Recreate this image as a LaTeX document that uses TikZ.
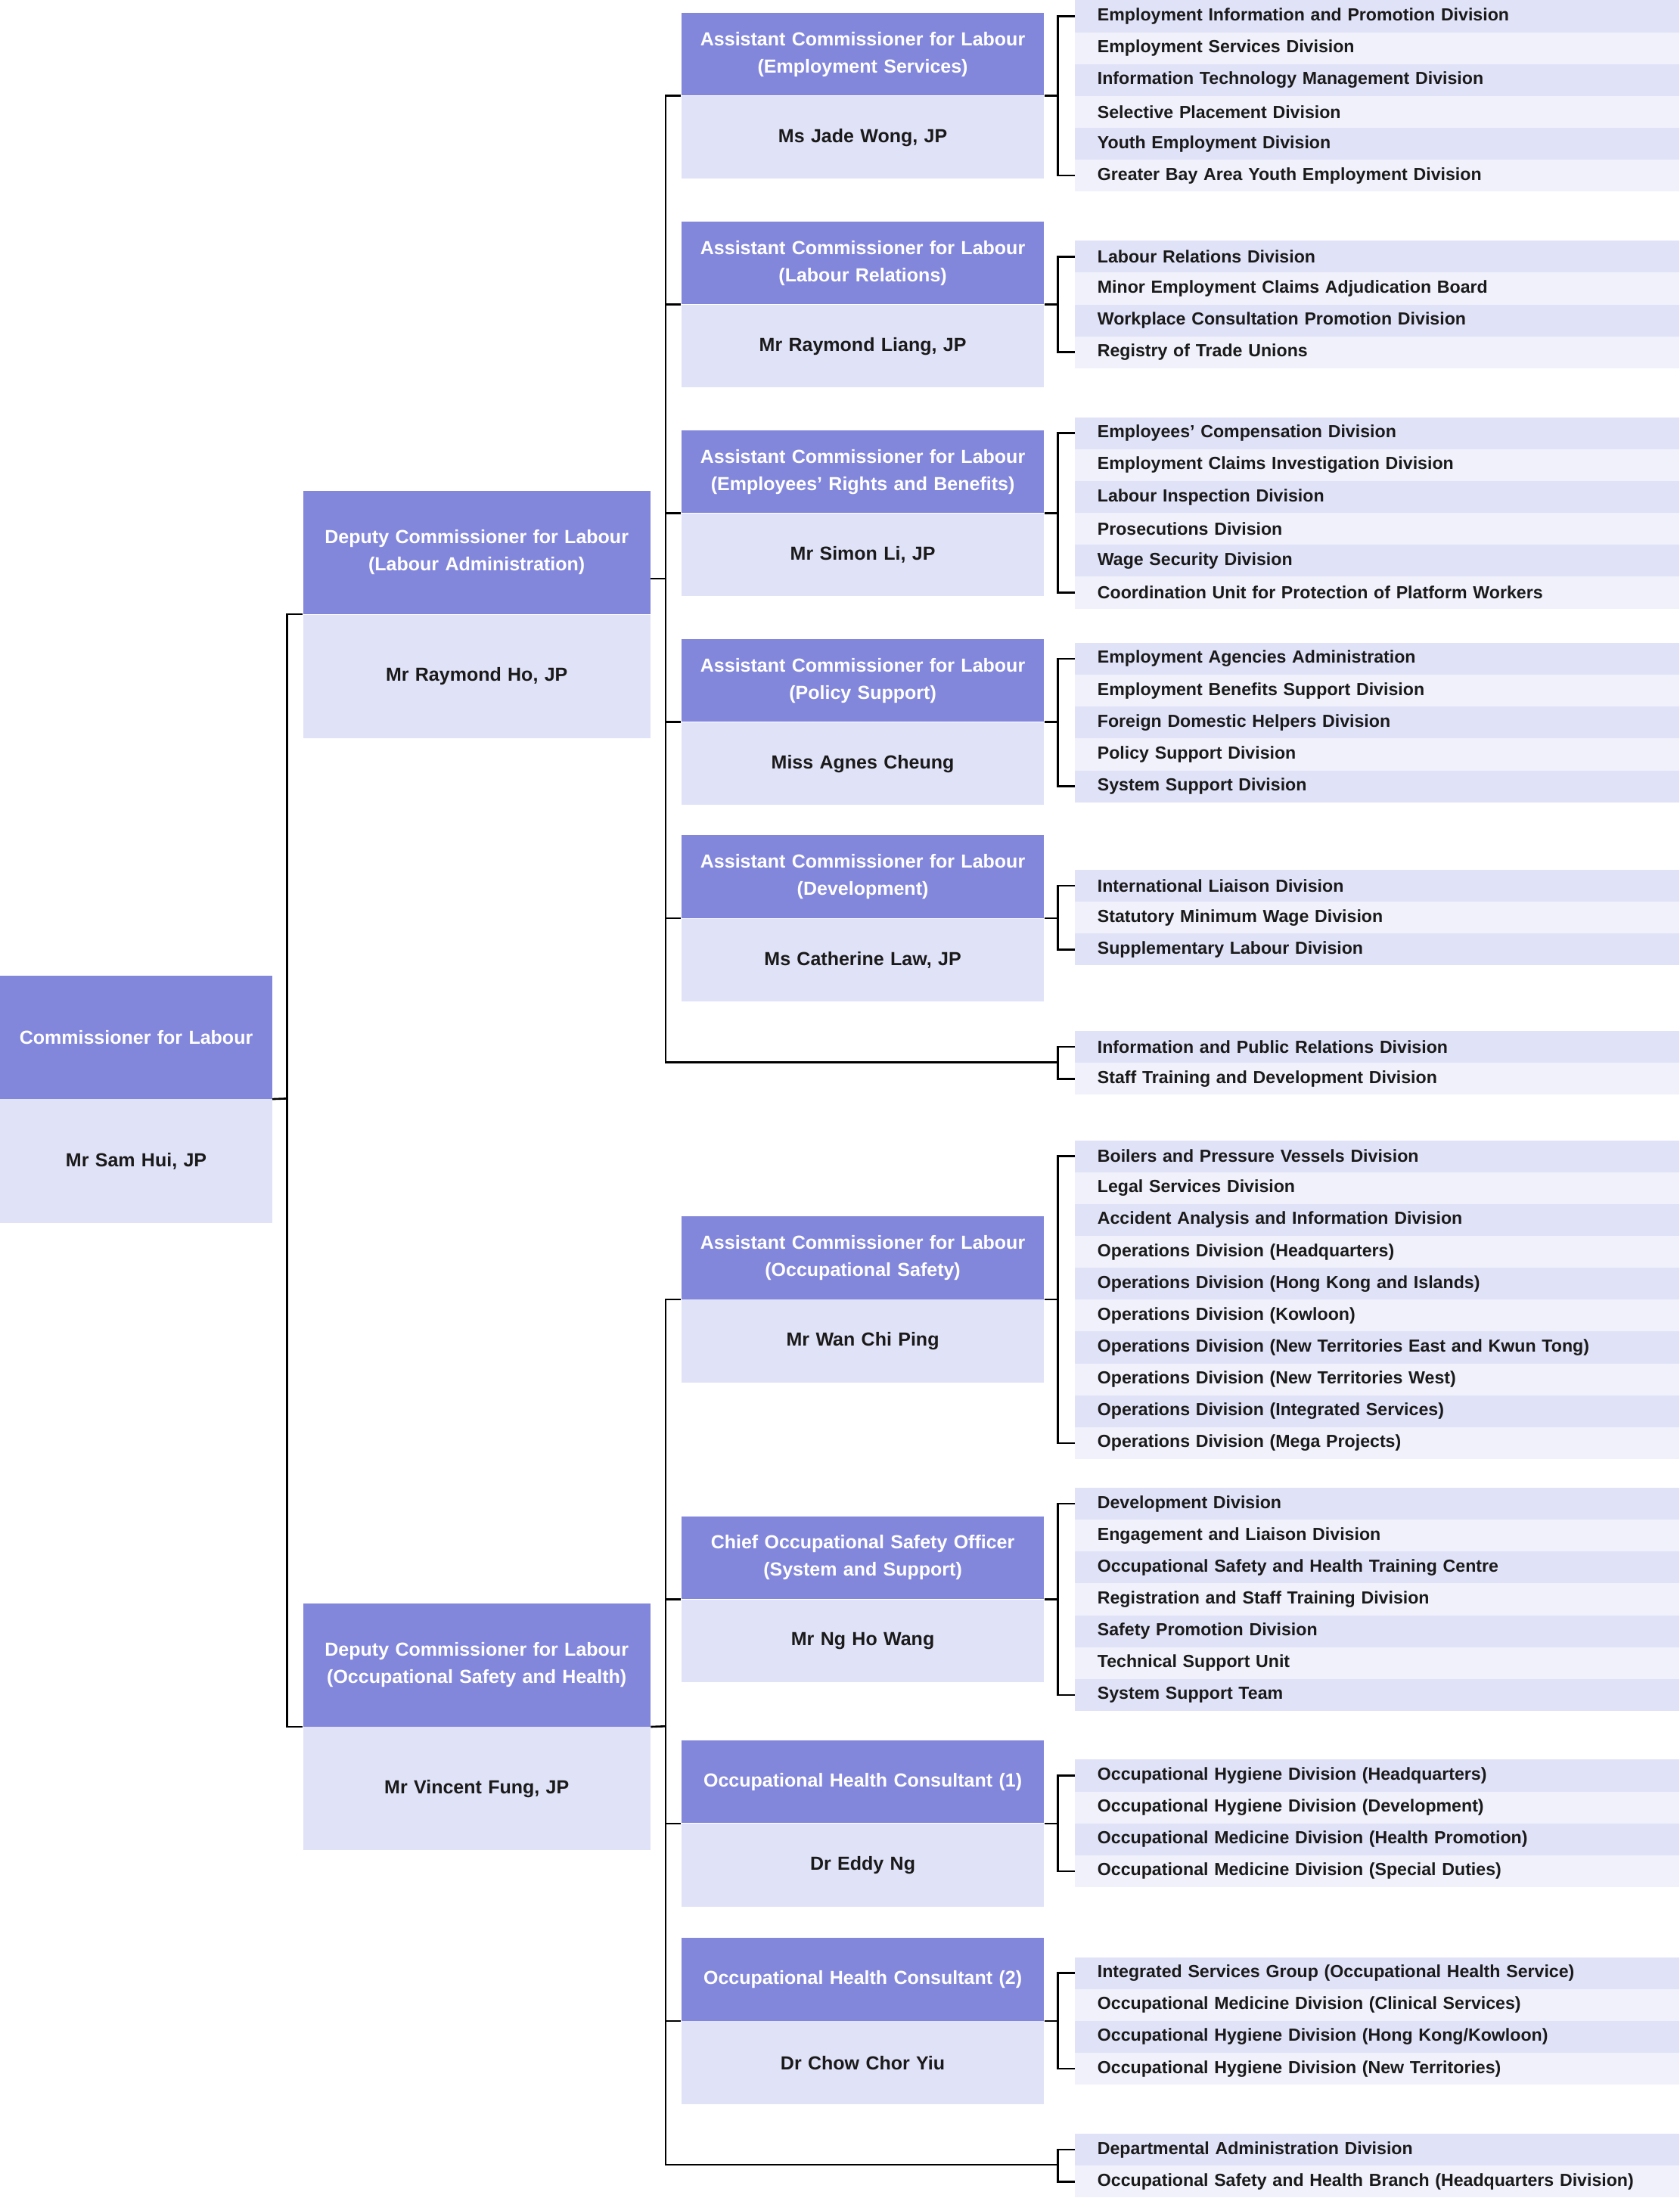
\documentclass[tikz,border=0pt]{standalone}
\usepackage{fontspec}
\setmainfont{Liberation Sans}
\definecolor{hd}{HTML}{8387DB}
\definecolor{bd}{HTML}{E0E2F8}
\definecolor{rl}{HTML}{F0F1FB}
\definecolor{tx}{HTML}{1A1A1A}
\begin{document}
\begin{tikzpicture}[x=1pt,y=-1pt,
  hbox/.style={fill=hd,text=white,anchor=north west,align=center,inner sep=0pt,font=\bfseries\fontsize{13.5}{19.5}\selectfont},
  bbox/.style={fill=bd,text=tx,anchor=north west,align=center,inner sep=0pt,font=\bfseries\fontsize{13.5}{19.5}\selectfont},
  row/.style={anchor=north west,minimum width=431pt,minimum height=22.75pt,inner xsep=16pt,inner ysep=0pt,text width=399pt,align=left,text=tx,font=\bfseries\fontsize{12.5}{14}\selectfont},
  ln/.style={line width=1.4pt,black}]
\useasboundingbox (0,0) rectangle (1198.4,1568.7);
\newcommand\abox[8]{%
  \node[hbox,minimum width=#4pt,minimum height=#5pt,text width=#4pt] (#1-h) at (#2,#3) {#7};
  \node[bbox,minimum width=#4pt,minimum height=#6pt,text width=#4pt] (#1-b) at (#1-h.south west) {#8};}
\newcommand\grp[4]{%
  \foreach \t [count=\i] in {#4}{%
    \ifodd\i\def\cc{bd}\else\def\cc{rl}\fi
    \node[row,fill=\cc] (#1-\i) at (767,#2+22.75*\i-22.75) {\t};}
  \draw[ln] (#1-1.west) -- ++(-12,0) |- (#1-#3.west);}
% level 0/1
\abox{comm}{0}{696}{194}{88}{88}{Commissioner for Labour}{Mr Sam Hui, JP}
\abox{dla}{216}{350}{248}{88}{88}{Deputy Commissioner for Labour\\(Labour Administration)}{Mr Raymond Ho, JP}
\abox{dosh}{216}{1144}{248}{88}{88}{Deputy Commissioner for Labour\\(Occupational Safety and Health)}{Mr Vincent Fung, JP}
\draw[ln] (comm-h.south east) -- (205,784);
\draw[ln] (dla-h.south west) -- ++(-11,0) |- (dosh-h.south west);
% level 2
\abox{es}{486}{9}{259}{59}{59}{Assistant Commissioner for Labour\\(Employment Services)}{Ms Jade Wong, JP}
\abox{lr}{486}{158}{259}{59}{59}{Assistant Commissioner for Labour\\(Labour Relations)}{Mr Raymond Liang, JP}
\abox{erb}{486}{307}{259}{59}{59}{Assistant Commissioner for Labour\\(Employees' Rights and Benefits)}{Mr Simon Li, JP}
\abox{ps}{486}{456}{259}{59}{59}{Assistant Commissioner for Labour\\(Policy Support)}{Miss Agnes Cheung}
\abox{dev}{486}{596}{259}{59}{59}{Assistant Commissioner for Labour\\(Development)}{Ms Catherine Law, JP}
\abox{os}{486}{868}{259}{59}{59}{Assistant Commissioner for Labour\\(Occupational Safety)}{Mr Wan Chi Ping}
\abox{cso}{486}{1082}{259}{59}{59}{Chief Occupational Safety Officer\\(System and Support)}{Mr Ng Ho Wang}
\abox{oh1}{486}{1242}{259}{59}{59}{Occupational Health Consultant (1)}{Dr Eddy Ng}
\abox{oh2}{486}{1383}{259}{59}{59}{Occupational Health Consultant (2)}{Dr Chow Chor Yiu}
% lists
\grp{es-l}{0}{6}{Employment Information and Promotion Division,Employment Services Division,Information Technology Management Division,Selective Placement Division,Youth Employment Division,Greater Bay Area Youth Employment Division}
\grp{lr-l}{171.6}{4}{Labour Relations Division,Minor Employment Claims Adjudication Board,Workplace Consultation Promotion Division,Registry of Trade Unions}
\grp{erb-l}{297.6}{6}{Employees' Compensation Division,Employment Claims Investigation Division,Labour Inspection Division,Prosecutions Division,Wage Security Division,Coordination Unit for Protection of Platform Workers}
\grp{ps-l}{458.6}{5}{Employment Agencies Administration,Employment Benefits Support Division,Foreign Domestic Helpers Division,Policy Support Division,System Support Division}
\grp{dev-l}{620.6}{3}{International Liaison Division,Statutory Minimum Wage Division,Supplementary Labour Division}
\grp{m1-l}{735.6}{2}{Information and Public Relations Division,Staff Training and Development Division}
\grp{os-l}{813.6}{10}{Boilers and Pressure Vessels Division,Legal Services Division,Accident Analysis and Information Division,Operations Division (Headquarters),Operations Division (Hong Kong and Islands),Operations Division (Kowloon),Operations Division (New Territories East and Kwun Tong),Operations Division (New Territories West),Operations Division (Integrated Services),Operations Division (Mega Projects)}
\grp{cso-l}{1061.6}{7}{Development Division,Engagement and Liaison Division,Occupational Safety and Health Training Centre,Registration and Staff Training Division,Safety Promotion Division,Technical Support Unit,System Support Team}
\grp{oh1-l}{1255.6}{4}{Occupational Hygiene Division (Headquarters),Occupational Hygiene Division (Development),Occupational Medicine Division (Health Promotion),Occupational Medicine Division (Special Duties)}
\grp{oh2-l}{1396.6}{4}{Integrated Services Group (Occupational Health Service),Occupational Medicine Division (Clinical Services),Occupational Hygiene Division (Hong Kong/Kowloon),Occupational Hygiene Division (New Territories)}
\grp{m2-l}{1522.6}{2}{Departmental Administration Division,Occupational Safety and Health Branch (Headquarters Division)}
% connectors level1 -> level2
\coordinate (m1) at (755,758);
\coordinate (m2) at (755,1545);
\draw[ln] (dla-h.east |- 0,413) -- (475,413);
\draw[ln] (es-h.south west) -- ++(-11,0) |- (m1);
\draw[ln] (dosh-h.south east) -- (475,1232);
\draw[ln] (os-h.south west) -- ++(-11,0) |- (m2);
\foreach \b in {lr,erb,ps,dev,cso,oh1,oh2}{\draw[ln] (\b-h.south west) -- ++(-11,0);}
\foreach \b in {es,lr,erb,ps,dev,os,cso,oh1,oh2}{\draw[ln] (\b-h.south east) -- ++(10,0);}
\end{tikzpicture}
\end{document}
